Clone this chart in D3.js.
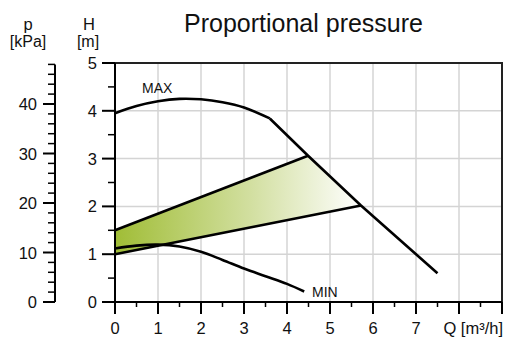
<!DOCTYPE html>
<html><head><meta charset="utf-8">
<script src="https://cdn.jsdelivr.net/npm/d3@7"></script>
<style>body{margin:0;background:#fff}svg{display:block}text{font-family:"Liberation Sans",Arial,sans-serif;fill:#111}</style>
</head><body><svg id="c" width="505" height="338"></svg>
<script>
const title = "Proportional pressure";
const qTicks = [0,1,2,3,4,5,6,7,8,9];
const qLabels = ["0","1","2","3","4","5","6","7","",""];
const hTicks = [0,1,2,3,4,5];
const pTicks = [0,10,20,30,40];
const maxSmooth = [[0,3.95],[0.5,4.1],[1,4.2],[1.5,4.25],[2,4.24],[2.5,4.18],[3,4.07],[3.6,3.84]];
const maxDrop = [[3.6,3.84],[4.49,3.06],[5.72,2.02],[7.5,0.6]];
const minCurve = [[0,1.12],[0.5,1.18],[1,1.2],[1.5,1.16],[2,1.05],[2.5,0.88],[3,0.7],[3.5,0.54],[4,0.38],[4.4,0.22]];
const upperProp = [[0,1.5],[4.49,3.06]];
const lowerProp = [[0,1.0],[5.72,2.02]];

const svg = d3.select("#c");
const x = d3.scaleLinear().domain([0,9]).range([115,502]);
const y = d3.scaleLinear().domain([0,5]).range([302,63]);
const p = d3.scaleLinear().domain([0,48]).range([302,64.4]);

// gridlines
const g = svg.append("g");
g.selectAll(".gx").data(d3.range(1,9)).join("line")
 .attr("x1",d=>x(d)).attr("x2",d=>x(d)).attr("y1",y(0)).attr("y2",y(5))
 .attr("stroke","#d4d4d4").attr("stroke-width",1.5);
g.selectAll(".gy").data(d3.range(1,5)).join("line")
 .attr("x1",x(0)).attr("x2",x(9)).attr("y1",d=>y(d)).attr("y2",d=>y(d))
 .attr("stroke","#d4d4d4").attr("stroke-width",1.5);

// gradient
const defs = svg.append("defs");
const grad = defs.append("linearGradient").attr("id","gr").attr("gradientUnits","userSpaceOnUse")
 .attr("x1",x(0)).attr("x2",x(lowerProp[1][0])).attr("y1",0).attr("y2",0);
grad.append("stop").attr("offset",0).attr("stop-color","#a0bd36");
grad.append("stop").attr("offset",0.55).attr("stop-color","#d2dfa0");
grad.append("stop").attr("offset",1).attr("stop-color","#ffffff");

const line = d3.line().x(d=>x(d[0])).y(d=>y(d[1]));
const area = [upperProp[0], upperProp[1], maxDrop[2], lowerProp[1], lowerProp[0]];
svg.append("path").attr("d", line(area)+"Z").attr("fill","url(#gr)");

const curves = svg.append("g").attr("fill","none").attr("stroke","#000").attr("stroke-width",2.6).attr("stroke-linejoin","round");
curves.append("path").attr("d", d3.line().x(d=>x(d[0])).y(d=>y(d[1])).curve(d3.curveCatmullRom)(maxSmooth));
curves.append("path").attr("d", line(maxDrop));
curves.append("path").attr("d", d3.line().x(d=>x(d[0])).y(d=>y(d[1])).curve(d3.curveCatmullRom)(minCurve));
curves.append("path").attr("d", line(upperProp));
curves.append("path").attr("d", line(lowerProp));

// frame (top & right)
svg.append("path").attr("d",`M${x(0)},${y(5)}H${x(9)}V${y(0)}`).attr("fill","none").attr("stroke","#222").attr("stroke-width",2);

// x axis
const xa = svg.append("g").attr("stroke","#000");
xa.append("line").attr("x1",102).attr("x2",x(9)).attr("y1",y(0)).attr("y2",y(0)).attr("stroke-width",2);
xa.selectAll(".t").data(qTicks).join("line").attr("x1",d=>x(d)).attr("x2",d=>x(d)).attr("y1",y(0)).attr("y2",y(0)+12).attr("stroke-width",2);
xa.selectAll(".m").data(d3.range(0.5,9,1)).join("line").attr("x1",d=>x(d)).attr("x2",d=>x(d)).attr("y1",y(0)).attr("y2",y(0)+5).attr("stroke-width",1.5);
svg.selectAll(".xl").data(qTicks).join("text").attr("x",d=>x(d)).attr("y",334).attr("text-anchor","middle").attr("font-size",16.5).text((d,i)=>qLabels[i]);
svg.append("text").attr("x",503).attr("y",334).attr("text-anchor","end").attr("font-size",16.5).text("Q [m³/h]");

// H axis
const ha = svg.append("g").attr("stroke","#000");
ha.append("line").attr("x1",x(0)).attr("x2",x(0)).attr("y1",y(5)).attr("y2",y(0)).attr("stroke-width",2);
ha.selectAll(".t").data(hTicks).join("line").attr("x1",102).attr("x2",x(0)).attr("y1",d=>y(d)).attr("y2",d=>y(d)).attr("stroke-width",2);
ha.selectAll(".m").data(d3.range(0.5,5,1)).join("line").attr("x1",x(0)-7).attr("x2",x(0)).attr("y1",d=>y(d)).attr("y2",d=>y(d)).attr("stroke-width",1.5);
svg.selectAll(".hl").data(hTicks).join("text").attr("x",97).attr("y",d=>y(d)+6).attr("text-anchor","end").attr("font-size",16.5).text(d=>d);

// p axis
const pa = svg.append("g").attr("stroke","#000");
pa.append("line").attr("x1",55).attr("x2",55).attr("y1",p(48)).attr("y2",p(0)).attr("stroke-width",2);
pa.selectAll(".t").data(pTicks).join("line").attr("x1",43).attr("x2",55).attr("y1",d=>p(d)).attr("y2",d=>p(d)).attr("stroke-width",2);
pa.selectAll(".m").data(d3.range(2,49,2).filter(d=>d%10)).join("line").attr("x1",48).attr("x2",55).attr("y1",d=>p(d)).attr("y2",d=>p(d)).attr("stroke-width",1.5);
svg.selectAll(".pl").data(pTicks).join("text").attr("x",37).attr("y",d=>p(d)+6).attr("text-anchor","end").attr("font-size",16.5).text(d=>d);

// axis titles
svg.append("text").attr("x",28).attr("y",30).attr("text-anchor","middle").attr("font-size",16.5).text("p");
svg.append("text").attr("x",28).attr("y",47).attr("text-anchor","middle").attr("font-size",16).text("[kPa]");
svg.append("text").attr("x",89).attr("y",30).attr("text-anchor","middle").attr("font-size",16.5).text("H");
svg.append("text").attr("x",88).attr("y",47).attr("text-anchor","middle").attr("font-size",16).text("[m]");

// curve labels
svg.append("text").attr("x",142).attr("y",93).attr("font-size",14).text("MAX");
svg.append("text").attr("x",312).attr("y",297).attr("font-size",14).text("MIN");

svg.append("text").attr("x",303.5).attr("y",32).attr("text-anchor","middle").attr("font-size",25).text(title);
</script></body></html>
